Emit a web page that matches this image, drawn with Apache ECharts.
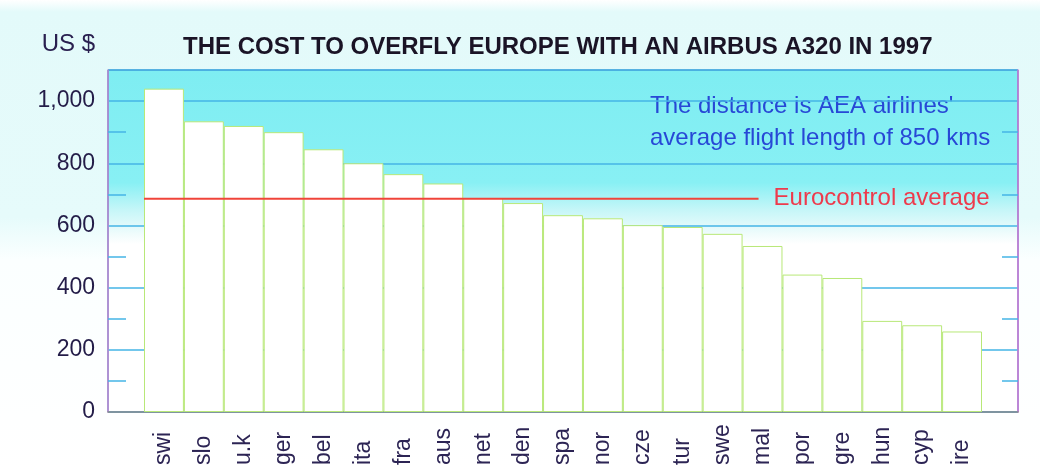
<!DOCTYPE html>
<html>
<head>
<meta charset="utf-8">
<script src="https://cdn.jsdelivr.net/npm/echarts@6/dist/echarts.min.js"></script>
<style>
  html, body { margin: 0; padding: 0; background: #fff; }
  #chart { width: 1040px; height: 472px; }
</style>
</head>
<body>
<div id="chart"></div>
<script>
// countries, ordered by cost
var countries = ['swi', 'slo', 'u.k', 'ger', 'bel', 'ita', 'fra', 'aus', 'net', 'den', 'spa',
                 'nor', 'cze', 'tur', 'swe', 'mal', 'por', 'gre', 'hun', 'cyp', 'ire'];
// US $ per flight of 850 km
var costs = [1040, 935, 920, 900, 845, 800, 765, 735, 688, 672, 633,
             623, 601, 595, 573, 534, 442, 431, 293, 279, 259];
// eurocontrol average, drawn from the left edge of swi to part way into mal (bar units)
var euroAvg = 686;
var euroSpan = [0, 15.4];

var font = 'Liberation Sans, Arial, sans-serif';

var chart = echarts.init(document.getElementById('chart'));

var option = {
    animation: false,
    backgroundColor: {
        type: 'linear', x: 0, y: 0, x2: 0, y2: 1,
        colorStops: [
            { offset: 0, color: '#ffffff' },
            { offset: 0.025, color: '#e3fafa' },
            { offset: 0.46, color: '#e6fbfb' },
            { offset: 0.55, color: '#fbffff' },
            { offset: 1, color: '#ffffff' }
        ]
    },
    title: {
        text: 'THE COST TO OVERFLY EUROPE WITH AN AIRBUS A320 IN 1997',
        left: 178,
        top: 30,
        textStyle: { fontFamily: font, fontSize: 24, fontWeight: 'bold', color: '#1a1426' }
    },
    grid: [
        {   // frame with the cyan band
            left: 108, right: 22, top: 70, bottom: 60,
            show: true,
            borderColor: '#3b5db2',
            borderWidth: 1,
            backgroundColor: {
                type: 'linear', x: 0, y: 0, x2: 0, y2: 1,
                colorStops: [
                    { offset: 0, color: '#7eedf2' },
                    { offset: 0.33, color: '#88f0f4' },
                    { offset: 0.41, color: '#c6f6f8' },
                    { offset: 0.48, color: '#f0fcfc' },
                    { offset: 0.51, color: '#ffffff' },
                    { offset: 1, color: '#ffffff' }
                ]
            }
        },
        {   // bars
            left: 144, right: 58, top: 70, bottom: 60
        }
    ],
    xAxis: [
        {
            gridIndex: 0, type: 'value', min: 0, max: 1,
            axisLine: { show: true, lineStyle: { color: '#8a8a8a', width: 1.5 } },
            axisTick: { show: false }, axisLabel: { show: false }, splitLine: { show: false }
        },
        {
            gridIndex: 1, type: 'category', data: countries,
            boundaryGap: true,
            axisLine: { show: false }, axisTick: { show: false },
            axisLabel: {
                rotate: 90, align: 'left', verticalAlign: 'middle', margin: 53,
                fontFamily: font, fontSize: 23, color: '#2c2454'
            }
        },
        {
            gridIndex: 1, type: 'value', min: 0, max: countries.length, show: false
        }
    ],
    yAxis: [
        {
            gridIndex: 0, type: 'value', min: 0, max: 1100, interval: 200,
            name: 'US $',
            nameLocation: 'end',
            nameGap: 14,
            nameTextStyle: { fontFamily: font, fontSize: 24, color: '#2a2050', align: 'right', padding: [0, 13, 0, 0] },
            axisLine: { show: true, lineStyle: { color: '#b58ad2', width: 1.5 } },
            axisTick: { show: false, inside: true },
            minorTick: { show: true, splitNumber: 2, length: 18, lineStyle: { color: '#45b5e6', width: 1.5 } },
            axisLabel: {
                showMaxLabel: false, margin: 13,
                fontFamily: font, fontSize: 23, color: '#231c48',
                formatter: function (v) { return v.toLocaleString('en-US'); }
            },
            splitLine: { show: true, lineStyle: { color: '#45b5e6', width: 1.5 } }
        },
        {
            gridIndex: 0, type: 'value', min: 0, max: 1100, interval: 200, position: 'right',
            axisLine: { show: true, lineStyle: { color: '#c77ad6', width: 1.5 } },
            axisTick: { show: false, inside: true },
            minorTick: { show: true, splitNumber: 2, length: 16, lineStyle: { color: '#45b5e6', width: 1.5 } },
            axisLabel: { show: false },
            splitLine: { show: false }
        },
        {
            gridIndex: 1, type: 'value', min: 0, max: 1100, show: false
        }
    ],
    graphic: [
        {
            type: 'text',
            left: 650,
            top: 90,
            style: {
                text: "The distance is AEA airlines'\naverage flight length of 850 kms",
                font: '24px ' + font,
                lineHeight: 32,
                fill: '#2748d6'
            }
        }
    ],
    series: [
        {
            type: 'bar',
            xAxisIndex: 1,
            yAxisIndex: 2,
            data: costs,
            barCategoryGap: 0,
            itemStyle: { color: '#ffffff', borderColor: '#b8e878', borderWidth: 1 },
            z: 3
        },
        {
            type: 'line',
            xAxisIndex: 2,
            yAxisIndex: 2,
            data: [[euroSpan[0], euroAvg], [euroSpan[1], euroAvg]],
            symbol: 'none',
            lineStyle: { color: '#f0443a', width: 2 },
            endLabel: {
                show: true,
                formatter: 'Eurocontrol average',
                distance: 15,
                fontFamily: font,
                fontSize: 24,
                color: '#ee3a4c'
            },
            z: 4
        }
    ]
};

chart.setOption(option);
</script>
</body>
</html>
